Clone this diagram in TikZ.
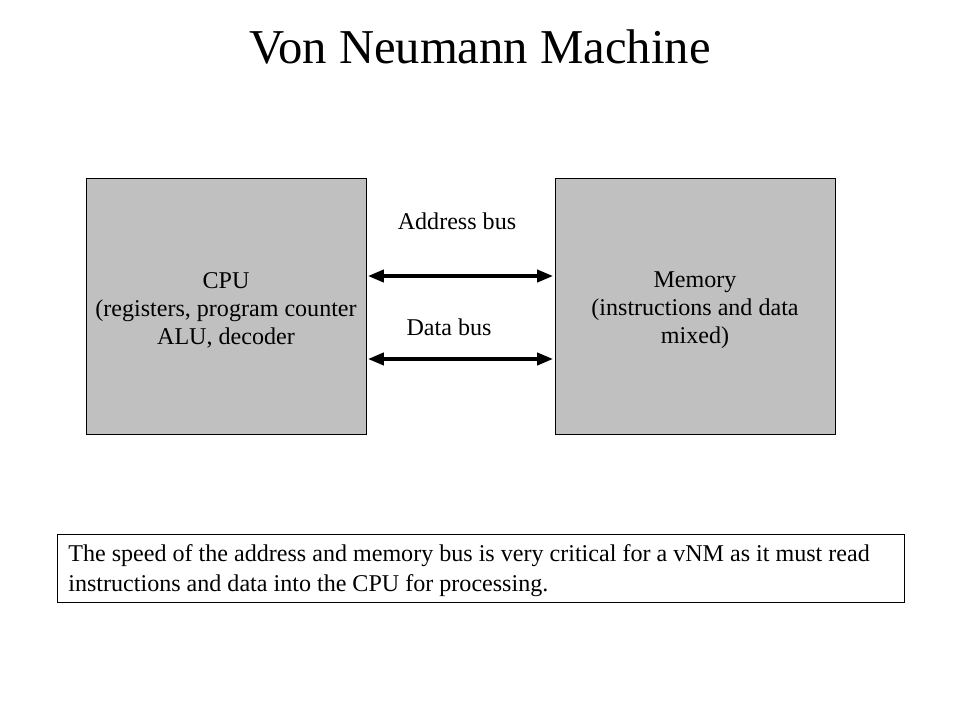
\documentclass[tikz,border=0pt]{standalone}
\usepackage{fontspec}
\setmainfont{Liberation Serif}
\usetikzlibrary{arrows.meta}
\definecolor{boxgray}{RGB}{192,192,192}
\tikzset{unit/.style={draw,fill=boxgray,minimum width=5.6cm,minimum height=5.12cm,align=center,font=\fontsize{13.7}{16}\selectfont},
bus/.style={{Triangle[length=9pt,width=7pt]}-{Triangle[length=9pt,width=7pt]},line width=1.8pt}}
\begin{document}
\begin{tikzpicture}[x=0.02cm,y=-0.02cm]
\useasboundingbox (0,0) rectangle (960,720);
\node (title) at (480,47) {\fontsize{27.7}{32}\selectfont Von Neumann Machine};

\node[unit] (cpu) at (226,306) {\rule{0pt}{14pt}CPU\\(registers, program counter\\ALU, decoder};
\node[unit] (mem) at (695,306) {\rule{0pt}{14pt}Memory\\(instructions and data\\mixed)};

\draw[bus] ([yshift=0.6cm,xshift=1pt]cpu.east) -- ([yshift=0.6cm,xshift=-1pt]mem.west);
\draw[bus] ([yshift=-1.06cm,xshift=1pt]cpu.east) -- ([yshift=-1.06cm,xshift=-1pt]mem.west);
\node[font=\fontsize{13.7}{16}\selectfont] (addr) at (457,221) {Address bus};
\node[font=\fontsize{13.7}{16}\selectfont] (data) at (449,327) {Data bus};

\node[draw,anchor=north west,minimum width=16.94cm,minimum height=1.36cm,text width=16.5cm,inner xsep=0.2cm,align=flush left,font=\fontsize{13.7}{17}\selectfont] (note) at (57,534)
{\rule{0pt}{12pt}The speed of the address and memory bus is very critical for a vNM as it must read instructions and data into the CPU for processing.};
\end{tikzpicture}
\end{document}
